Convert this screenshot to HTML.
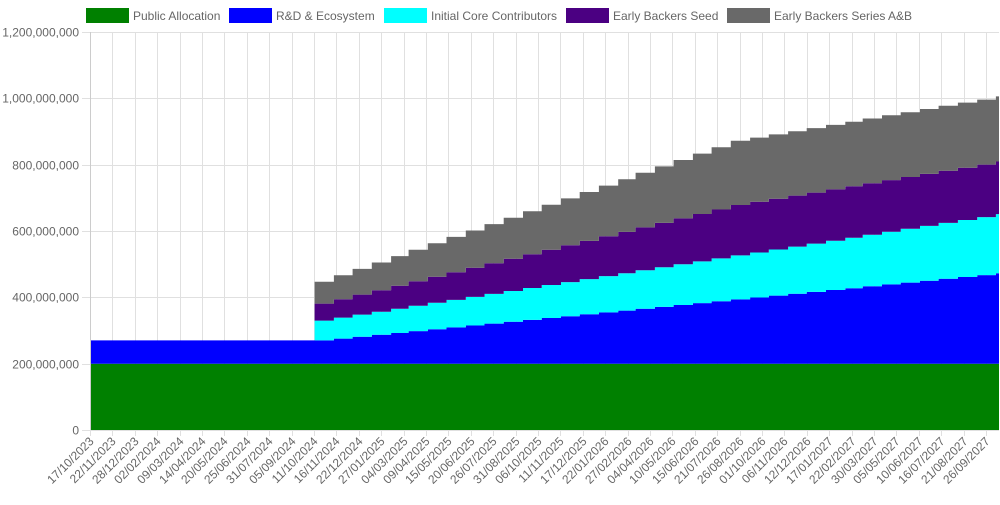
<!DOCTYPE html>
<html><head><meta charset="utf-8"><style>
body{margin:0;background:#fff;width:1000px;height:500px;overflow:hidden}
svg text{font-family:"Liberation Sans",sans-serif;font-size:12px;fill:#666}
</style></head><body>
<svg id="chart" width="1000" height="500" xmlns="http://www.w3.org/2000/svg">
<g id="grid"></g>
<g id="areas"></g>
<g id="axes"></g>
<g id="legend"></g>
</svg>
<script>
const seriesNames=["Public Allocation","R&D & Ecosystem","Initial Core Contributors","Early Backers Seed","Early Backers Series A&B"];
const seriesColors=["#008000","#0000ff","#00ffff","#4b0082","#696969"];
const publicAlloc=[200,200,200,200,200,200,200,200,200,200,200,200,200,200,200,200,200,200,200,200,200,200,200,200,200,200,200,200,200,200,200,200,200,200,200,200,200,200,200,200,200,200,200,200,200,200,200,200,200];
const rdEco=[70,70,70,70,70,70,70,70,70,70,70,70,70,75.6,81.3,86.9,92.5,98.2,103.8,109.4,115.0,120.7,126.3,131.9,137.6,143.2,148.8,154.5,160.1,165.7,171.3,177.0,182.6,188.2,193.9,199.5,205.1,210.8,216.4,222.0,227.6,233.3,238.9,244.5,250.2,255.8,261.4,267,272.6];
const coreContrib=[0,0,0,0,0,0,0,0,0,0,0,0,60,63.3,66.6,69.9,73.2,76.5,79.7,83.0,86.3,89.6,92.9,96.2,99.5,102.8,106.1,109.4,112.6,115.9,119.2,122.5,125.8,129.1,132.4,135.7,139.0,142.3,145.5,148.8,152.1,155.4,158.7,162.0,165.3,168.6,171.9,175,178.3];
const seed=[0,0,0,0,0,0,0,0,0,0,0,0,51,55.6,60.2,64.8,69.4,74.0,78.6,83.2,87.8,92.4,97.0,101.6,106.2,110.8,115.4,120.0,124.6,129.2,133.8,138.4,143.0,147.6,152.2,152.7,153.1,153.6,154.0,154.5,155.0,155.4,155.9,156.3,156.8,157.2,157.7,158.1,158.6];
const seriesAB=[0,0,0,0,0,0,0,0,0,0,0,0,66,71.8,77.6,83.4,89.2,95.0,100.8,106.6,112.4,118.2,124.0,129.8,135.6,141.4,147.2,153.0,158.8,164.6,170.4,176.2,182.0,187.8,193.6,193.8,194.0,194.2,194.4,194.6,194.8,195.0,195.2,195.4,195.6,195.8,196.0,196.2,196.4];
const yTicks=[0,200,400,600,800,1000,1200];
const xTickLabels=["17/10/2023","22/11/2023","28/12/2023","02/02/2024","09/03/2024","14/04/2024","20/05/2024","25/06/2024","31/07/2024","05/09/2024","11/10/2024","16/11/2024","22/12/2024","27/01/2025","04/03/2025","09/04/2025","15/05/2025","20/06/2025","26/07/2025","31/08/2025","06/10/2025","11/11/2025","17/12/2025","22/01/2026","27/02/2026","04/04/2026","10/05/2026","15/06/2026","21/07/2026","26/08/2026","01/10/2026","06/11/2026","12/12/2026","17/01/2027","22/02/2027","30/03/2027","05/05/2027","10/06/2027","16/07/2027","21/08/2027","26/09/2027"];
const series=[publicAlloc,rdEco,coreContrib,seed,seriesAB];
const NS="http://www.w3.org/2000/svg";
const L=90,R=999,T=32,B=430;
const d0=Date.UTC(2023,9,17),d1=Date.UTC(2027,9,17);
function xs(t){return L+(t-d0)/(d1-d0)*(R-L);}
function ys(v){return B-v/1200*(B-T);}
function monthDate(i){return Date.UTC(2023,9+i,12);}
function parseD(s){const p=s.split('/');return Date.UTC(+p[2],+p[1]-1,+p[0]);}
function mk(tag,attrs,parent){const e=document.createElementNS(NS,tag);for(const k in attrs)e.setAttribute(k,attrs[k]);parent.appendChild(e);return e;}
const grid=document.getElementById('grid'),areas=document.getElementById('areas'),axes=document.getElementById('axes'),legend=document.getElementById('legend');
yTicks.forEach(v=>{const y=Math.round(ys(v))+0.5;
 const g=mk('line',{x1:82,x2:R,y1:y,y2:y,stroke:'#e0e0e0','stroke-width':1},grid);
 
 
 const t=mk('text',{x:79,y:y+4,'text-anchor':'end'},axes);t.textContent=v===0?'0':(v*1e6).toLocaleString('en-US');
 
 
});
xTickLabels.forEach(s=>{const x=Math.round(xs(parseD(s)))+0.5;
 const g=mk('line',{x1:x,x2:x,y1:T,y2:436,stroke:'#e0e0e0','stroke-width':1},grid);
 
 
 const t=mk('text',{x:0,y:0,'text-anchor':'end',transform:`translate(${x+4},${442}) rotate(-45)`},axes);t.textContent=s;
 
 
});
mk('line',{x1:L+0.5,x2:L+0.5,y1:T,y2:B,stroke:'#ccc'},axes);
const n=publicAlloc.length;
let base=new Array(n).fill(0);
function cx(i){return Math.min(R,Math.max(L,xs(monthDate(i))));}
series.forEach((s,si)=>{const top=s.map((v,i)=>base[i]+v);
 let pts=[];
 for(let i=0;i<n;i++){const x=i===0?L:cx(i);const xn=i<n-1?cx(i+1):R;pts.push([x,ys(top[i])]);pts.push([xn,ys(top[i])]);}
 let bp=[];
 for(let i=n-1;i>=0;i--){const x=i===0?L:cx(i);const xn=i<n-1?cx(i+1):R;bp.push([xn,ys(base[i])]);bp.push([x,ys(base[i])]);}
 const d='M'+pts.concat(bp).map(p=>p[0].toFixed(1)+','+p[1].toFixed(1)).join('L')+'Z';
 const p=mk('path',{d:d,fill:seriesColors[si]},areas);
 
 
 base=top;
});
const legX=[86,229,384,566,727];
seriesNames.forEach((nm,i)=>{
 const r=mk('rect',{x:legX[i]+0.5,y:8.5,width:42,height:14,fill:seriesColors[i],stroke:seriesColors[i]},legend);
 
 
 const t=mk('text',{x:legX[i]+47,y:20},legend);t.textContent=nm;
 
 
});
</script>
</body></html>
